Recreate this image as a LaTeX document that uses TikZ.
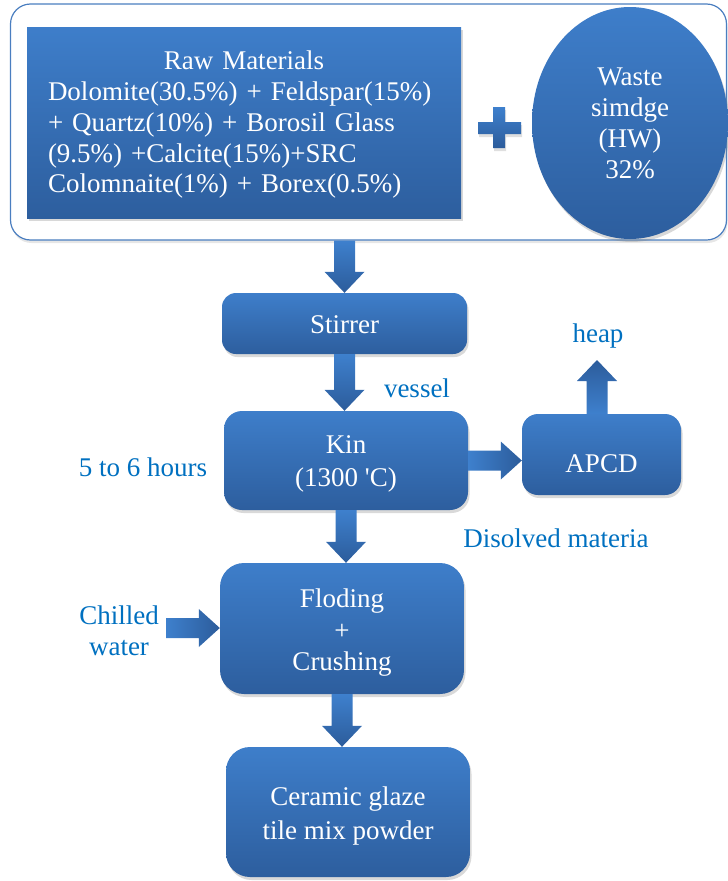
\documentclass[tikz,border=0pt]{standalone}
\usepackage{fontspec}
\setmainfont{Liberation Serif}
\usetikzlibrary{shapes.geometric,shadows,calc}
\definecolor{boxtop}{RGB}{62,126,202}
\definecolor{boxbot}{RGB}{45,94,158}
\definecolor{arrlight}{RGB}{62,128,205}
\definecolor{arrdark}{RGB}{44,92,155}
\definecolor{lblue}{RGB}{0,112,192}
\definecolor{frame}{RGB}{74,126,192}
\newcommand{\blkdown}[2]{\shade[top color=arrlight,bottom color=arrdark] let \p1=(#1), \p2=(#2) in
  (\x1-10.5pt,\y1) -- (\x1+10.5pt,\y1) -- (\x1+10.5pt,\y2+21pt) -- (\x1+20pt,\y2+21pt) -- (\x1,\y2) -- (\x1-20pt,\y2+21pt) -- (\x1-10.5pt,\y2+21pt) -- cycle;}
\newcommand{\blkup}[2]{\shade[bottom color=arrlight,top color=arrdark] let \p1=(#1), \p2=(#2) in
  (\x1-10.5pt,\y1) -- (\x1+10.5pt,\y1) -- (\x1+10.5pt,\y2-21pt) -- (\x1+20pt,\y2-21pt) -- (\x1,\y2) -- (\x1-20pt,\y2-21pt) -- (\x1-10.5pt,\y2-21pt) -- cycle;}
\newcommand{\blkright}[2]{\shade[left color=arrlight,right color=arrdark] let \p1=(#1), \p2=(#2) in
  (\x1,\y1-10pt) -- (\x2-21pt,\y1-10pt) -- (\x2-21pt,\y1-19pt) -- (\x2,\y1) -- (\x2-21pt,\y1+19pt) -- (\x2-21pt,\y1+10pt) -- (\x1,\y1+10pt) -- cycle;}
\tikzset{
  bigfont/.style={font=\fontsize{27}{31}\selectfont},
  shadowed/.style={drop shadow={opacity=0.3,shadow xshift=1.5pt,shadow yshift=-3pt}},
  bluebox/.style={top color=boxtop,bottom color=boxbot,draw=none,shadowed,inner sep=0pt},
  roundbox/.style={bluebox,rectangle,rounded corners=14pt},
  boxtext/.style={bigfont,text=white,align=center,inner sep=0pt},
  lbl/.style={bigfont,text=lblue,align=center,inner sep=0pt},
}
\begin{document}
\begin{tikzpicture}[x=1pt,y=-1pt]
\useasboundingbox (0,0) rectangle (728,881);
% outer group frame
\node[draw=frame,line width=1.2pt,rounded corners=20pt,minimum width=716pt,minimum height=236pt,fill=white,
  drop shadow={opacity=0.2,shadow xshift=1pt,shadow yshift=-3pt}] (group) at (368.5,122) {};
% raw materials
\node[bluebox,rectangle,minimum width=434pt,minimum height=191pt] (raw) at (244,122.5) {};
\node[boxtext,text width=392pt,align=left,font=\fontsize{27}{30.75}\selectfont] (rawtxt) at (244,125)
 {{\centering Raw Materials\par}Dolomite(30.5\%) + Feldspar(15\%)\\+ Quartz(10\%) + Borosil Glass\\(9.5\%) +Calcite(15\%)+SRC\\Colomnaite(1\%) + Borex(0.5\%)};
% plus sign
\shade[top color=arrlight,bottom color=arrdark,drop shadow={opacity=0.25,shadow xshift=1pt,shadow yshift=-3pt}]
  (493,107) -- (505,107) -- (505,122) -- (521,122) -- (521,134) -- (505,134) -- (505,148) -- (493,148)
  -- (493,134) -- (478,134) -- (478,122) -- (493,122) -- cycle;
% waste ellipse
\node[bluebox,ellipse,minimum width=196pt,minimum height=232pt] (waste) at (630,123) {};
\node[boxtext] (wastetxt) at (630,123) {Waste\\simdge\\(HW)\\32\%};
% process boxes
\node[roundbox,minimum width=245pt,minimum height=61pt] (stir) at (344.5,323.5) {};
\node[boxtext] (stirtxt) at (344.5,324.5) {Stirrer};
\node[roundbox,minimum width=244pt,minimum height=99pt,rounded corners=18pt] (kin) at (346,460.5) {};
\node[boxtext,font=\fontsize{27}{33.5}\selectfont] (kintxt) at (346,464) {Kin\\(1300 \textquotesingle C)};
\node[roundbox,minimum width=159pt,minimum height=81pt,rounded corners=16pt] (apcd) at (601.5,454.5) {};
\node[boxtext] (apcdtxt) at (601.5,463.5) {APCD};
\node[roundbox,minimum width=244pt,minimum height=131pt,rounded corners=24pt] (flod) at (342,628.5) {};
\node[boxtext,font=\fontsize{27}{31.5}\selectfont] (flodtxt) at (342,633) {Floding\\+\\Crushing};
\node[roundbox,minimum width=244pt,minimum height=130pt,rounded corners=24pt] (cer) at (348,812) {};
\node[boxtext,font=\fontsize{27}{34}\selectfont] (certxt) at (348,816) {Ceramic glaze\\tile mix powder};
% labels
\node[lbl] (vessel) at (417,388) {vessel};
\node[lbl] (heap) at (598,336) {heap};
\node[lbl] (dis) at (556,538.5) {Disolved materia};
\node[lbl] (hours) at (143,467) {5 to 6 hours};
\node[lbl] (chilled) at (119,631) {Chilled\\water};
\coordinate (heapin) at (597,360);
\coordinate (chin) at (166,628);
% block arrows
\blkdown{group.south -| stir.north}{stir.north}
\blkdown{stir.south}{kin.north}
\blkdown{kin.south}{flod.north}
\blkdown{flod.south}{cer.north}
\blkright{kin.east}{apcd.west}
\blkup{apcd.north -| heapin}{heapin}
\blkright{chin}{flod.west}
\end{tikzpicture}
\end{document}
